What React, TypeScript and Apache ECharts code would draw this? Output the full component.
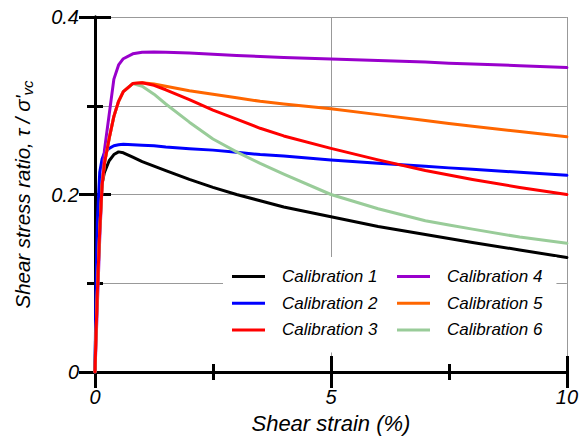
import React, { useEffect, useRef } from "react";
import * as echarts from "echarts";

const strain = [0, 0.02, 0.05, 0.1, 0.15, 0.2, 0.3, 0.4, 0.5, 0.6, 0.8, 1.0, 1.25, 1.5, 2, 2.5, 3, 3.5, 4, 5, 6, 7, 7.5, 8, 9, 10];

const cal1 = [0, 0.07, 0.14, 0.19, 0.212, 0.225, 0.238, 0.245, 0.248, 0.247, 0.242, 0.237, 0.232, 0.227, 0.217, 0.208, 0.2, 0.193, 0.186, 0.175, 0.164, 0.155, 0.1505, 0.146, 0.1375, 0.129];
const cal2 = [0, 0.09, 0.17, 0.225, 0.24, 0.247, 0.252, 0.255, 0.256, 0.2565, 0.256, 0.2555, 0.255, 0.2535, 0.2515, 0.25, 0.2475, 0.245, 0.2435, 0.239, 0.2352, 0.2317, 0.23, 0.2285, 0.225, 0.2216];
const cal3 = [0, 0.04, 0.09, 0.16, 0.21, 0.235, 0.263, 0.288, 0.305, 0.316, 0.325, 0.326, 0.323, 0.318, 0.307, 0.295, 0.285, 0.2746, 0.266, 0.252, 0.239, 0.227, 0.222, 0.217, 0.208, 0.2];
const cal4 = [0, 0.03, 0.075, 0.15, 0.21, 0.25, 0.29, 0.33, 0.346, 0.353, 0.3585, 0.3603, 0.3605, 0.3603, 0.3595, 0.358, 0.3565, 0.3555, 0.3545, 0.3527, 0.351, 0.3492, 0.348, 0.347, 0.3452, 0.343];
const cal5 = [0, 0.04, 0.09, 0.16, 0.21, 0.235, 0.263, 0.288, 0.305, 0.316, 0.325, 0.326, 0.3245, 0.322, 0.317, 0.313, 0.309, 0.305, 0.302, 0.2965, 0.29, 0.2835, 0.28, 0.277, 0.271, 0.265];
const cal6 = [0, 0.04, 0.09, 0.16, 0.21, 0.235, 0.263, 0.288, 0.305, 0.316, 0.325, 0.322, 0.313, 0.302, 0.2815, 0.2625, 0.248, 0.235, 0.223, 0.2, 0.184, 0.1705, 0.1656, 0.161, 0.152, 0.145];

const seriesNames = ["Calibration 1", "Calibration 2", "Calibration 3", "Calibration 4", "Calibration 5", "Calibration 6"];
const seriesValues = [cal1, cal2, cal3, cal4, cal5, cal6];
const seriesColors = ["#000000", "#0000ff", "#ff0000", "#9900cc", "#ff6600", "#99cc99"];
const seriesZ = [2, 2, 5, 2, 3, 3];

const xTicks = { min: 0, max: 10, interval: 5 };
const yTicks = { min: 0, max: 0.4, interval: 0.2 };

const FONT = "'Liberation Sans', Arial, sans-serif";

export default function App() {
  const ref = useRef<HTMLDivElement>(null);
  useEffect(() => {
    if (!ref.current) return;
    const chart = echarts.init(ref.current, null, { renderer: "svg" });
    const axisLine = { show: true, lineStyle: { color: "#000", width: 3 } };
    const label = { fontFamily: FONT, fontStyle: "italic", fontSize: 20, color: "#000" };
    const series = seriesNames.map((name, i) => ({
      name,
      type: "line",
      data: strain.map((s, j) => [s, seriesValues[i][j]]),
      showSymbol: false,
      symbol: "none",
      smooth: false,
      z: seriesZ[i],
      lineStyle: { color: seriesColors[i], width: 3, join: "round", cap: "round" },
      itemStyle: { color: seriesColors[i] },
      xAxisIndex: 0,
      yAxisIndex: 0,
    }));
    const legendCommon = {
      orient: "vertical",
      icon: "rect",
      itemWidth: 33,
      itemHeight: 3,
      itemGap: 9.7,
      backgroundColor: "#ffffff",
      textStyle: { fontFamily: FONT, fontStyle: "italic", fontSize: 17, color: "#000", lineHeight: 17, padding: [0, 0, 0, 12] },
    };
    chart.setOption({
      animation: false,
      grid: { left: 95, right: 14, top: 17, bottom: 68, containLabel: false },
      legend: [
        { ...legendCommon, data: seriesNames.slice(0, 3), left: 223, top: 257, padding: [11, 20, 14, 9] },
        { ...legendCommon, data: seriesNames.slice(3), left: 396, top: 257, padding: [11, 14, 14, 1] },
      ],
      xAxis: [
        {
          type: "value",
          position: "bottom",
          ...xTicks,
          name: "Shear strain (%)",
          nameLocation: "middle",
          nameGap: 40,
          nameTextStyle: { fontFamily: FONT, fontStyle: "italic", fontSize: 22, color: "#000" },
          axisLine,
          axisTick: { show: true, inside: true, length: 16, lineStyle: { color: "#000", width: 3 } },
          minorTick: { show: true, splitNumber: 2, length: 8, lineStyle: { color: "#000", width: 3 } },
          axisLabel: { ...label, margin: 15 },
          splitLine: { show: true, lineStyle: { color: "#999", width: 1 } },
          minorSplitLine: { show: false },
        },
        {
          type: "value",
          position: "top",
          ...xTicks,
          axisLine,
          axisTick: { show: true, inside: true, length: 16, lineStyle: { color: "#000", width: 3 } },
          minorTick: { show: true, splitNumber: 2, length: 8, lineStyle: { color: "#000", width: 3 } },
          axisLabel: { show: false },
          splitLine: { show: false },
        },
      ],
      yAxis: [
        {
          type: "value",
          position: "left",
          ...yTicks,
          name: "Shear stress ratio, τ / σ'{sub|vc}",
          nameLocation: "middle",
          nameGap: 60,
          nameRotate: 90,
          nameTextStyle: {
            fontFamily: FONT,
            fontStyle: "italic",
            fontSize: 20.5,
            color: "#000",
            rich: {
              sub: { fontFamily: FONT, fontStyle: "italic", fontSize: 15, color: "#000", padding: [10, 0, 0, 0] },
            },
          },
          axisLine,
          axisTick: { show: true, inside: true, length: 16, lineStyle: { color: "#000", width: 3 } },
          minorTick: { show: true, splitNumber: 2, length: 8, lineStyle: { color: "#000", width: 3 } },
          axisLabel: { ...label, margin: 16, formatter: (v: number) => (v === 0 ? "0" : String(v)) },
          splitLine: { show: true, lineStyle: { color: "#999", width: 1 } },
          minorSplitLine: { show: true, lineStyle: { color: "#999", width: 1 } },
        },
        {
          type: "value",
          position: "right",
          ...yTicks,
          axisLine,
          axisTick: { show: true, inside: true, length: 16, lineStyle: { color: "#000", width: 3 } },
          minorTick: { show: true, splitNumber: 2, length: 8, lineStyle: { color: "#000", width: 3 } },
          axisLabel: { show: false },
          splitLine: { show: false },
        },
      ],
      series,
    });
    return () => chart.dispose();
  }, []);
  return <div ref={ref} style={{ width: 581, height: 440, position: "absolute", left: 0, top: 0 }} />;
}
